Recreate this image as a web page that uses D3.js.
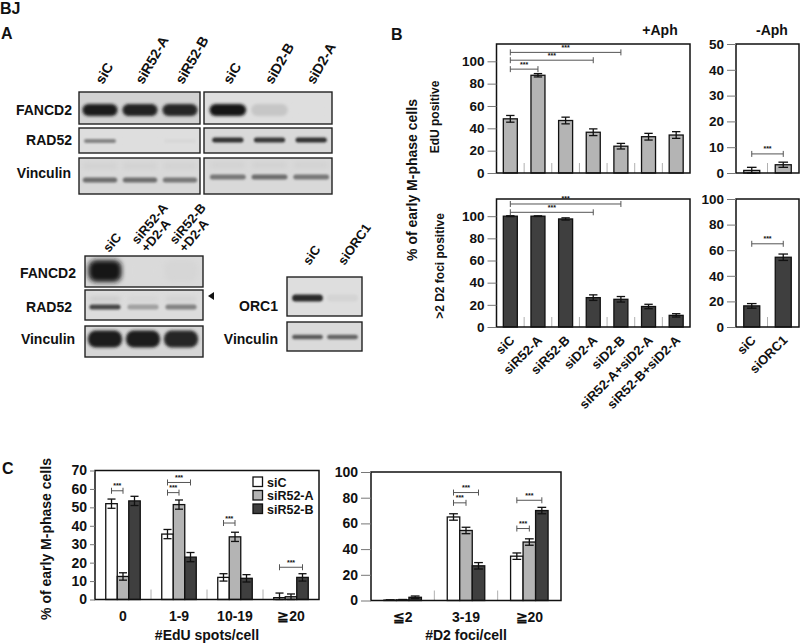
<!DOCTYPE html>
<html><head><meta charset="utf-8">
<script src="https://cdn.jsdelivr.net/npm/d3@7"></script>
<style>
body{margin:0;background:#fff}
text{font-family:"Liberation Sans",Arial,Helvetica,sans-serif;font-weight:bold;fill:#111}
</style>
</head><body>
<script>
// ================= DATA =================
// Panel A - western blots (relative band intensity 0..1)
const blot1Lanes = ["siC", "siR52-A", "siR52-B"];
const blot1FANCD2 = [0.95, 0.93, 0.9];
const blot1RAD52 = [0.45, 0.0, 0.03];
const blot1Vinculin = [0.55, 0.55, 0.5];
const blot2Lanes = ["siC", "siD2-B", "siD2-A"];
const blot2FANCD2 = [1.0, 0.12, 0.0];
const blot2RAD52 = [0.85, 0.82, 0.85];
const blot2Vinculin = [0.5, 0.55, 0.5];
const blot3Lanes = ["siC", "siR52-A\n+D2-A", "siR52-B\n+D2-A"];
const blot3FANCD2 = [1.0, 0.0, 0.02];
const blot3RAD52 = [0.75, 0.3, 0.45];
const blot3Vinculin = [0.95, 0.95, 0.9];
const blot4Lanes = ["siC", "siORC1"];
const blot4ORC1 = [0.9, 0.05];
const blot4Vinculin = [0.65, 0.6];

// Panel B
const bCats = ["siC", "siR52-A", "siR52-B", "siD2-A", "siD2-B", "siR52-A+siD2-A", "siR52-B+siD2-A"];
const bEduAph = [48.5, 87.5, 47, 36.5, 24, 32.5, 34];
const bEduAphErr = [3, 1.5, 3, 3, 2.5, 3, 3];
const bFociAph = [100, 100, 97.5, 26.5, 25, 18.5, 10.5];
const bFociAphErr = [0.4, 0.3, 1, 2.5, 2.5, 2, 1.5];
const bCatsNoAph = ["siC", "siORC1"];
const bEduNoAph = [1, 3.2];
const bEduNoAphErr = [1.2, 1];
const bFociNoAph = [16.5, 54.5];
const bFociNoAphErr = [1.8, 2.5];
const bTicks = [0, 20, 40, 60, 80, 100];
const bTicksNoAphEdu = [0, 10, 20, 30, 40, 50];
// significance brackets: [from index, to index, height in data units]
const bEduAphSig = [[0, 1, 93], [0, 3, 101], [0, 4, 108]];
const bFociAphSig = [[0, 3, 103.5], [0, 4, 111]];
const bEduNoAphSig = [[0, 1, 7.4]];
const bFociNoAphSig = [[0, 1, 65]];

// Panel C
const cSeries = ["siC", "siR52-A", "siR52-B"];
const cEduGroups = ["0", "1-9", "10-19", "≧20"];
const cEduSiC = [52, 35.5, 12, 1];
const cEduSiCErr = [2.5, 2.5, 2, 2.5];
const cEduR52A = [12.5, 51.5, 34, 1.5];
const cEduR52AErr = [2, 2.5, 2.5, 1.5];
const cEduR52B = [53.5, 23, 11.5, 12];
const cEduR52BErr = [2.5, 2.5, 2, 2];
const cEduTicks = [0, 10, 20, 30, 40, 50, 60, 70];
const cEduSig = [[0, 0, 1, 59], [1, 0, 1, 58], [1, 0, 2, 63.5], [2, 0, 1, 41.5], [3, 0, 2, 17.5]];
const cFociGroups = ["≦2", "3-19", "≧20"];
const cFociSiC = [0.3, 65, 34.5];
const cFociSiCErr = [0.2, 2.5, 2.5];
const cFociR52A = [0.5, 54.5, 45.5];
const cFociR52AErr = [0.3, 2.5, 2.5];
const cFociR52B = [2.5, 27, 70];
const cFociR52BErr = [1, 2.5, 2.5];
const cFociTicks = [0, 20, 40, 60, 80, 100];
const cFociSig = [[1, 0, 1, 76], [1, 0, 2, 84], [2, 0, 1, 56], [2, 0, 2, 78]];

// ================= DRAWING =================
const FONT = '"Liberation Sans", Arial, Helvetica, sans-serif';
const svg = d3.select("body").append("svg").attr("width", 800).attr("height", 644);
const defs = svg.append("defs");
function blurFilter(id, sd) {
  defs.append("filter").attr("id", id).attr("x", "-30%").attr("y", "-200%")
    .attr("width", "160%").attr("height", "500%")
    .append("feGaussianBlur").attr("stdDeviation", sd);
}
blurFilter("blurS", 1.0);
blurFilter("blurM", 1.8);
blurFilter("blurL", 2.6);

function label(x, y, t, fs, anchor) {
  return svg.append("text").attr("x", x).attr("y", y).attr("font-size", fs)
    .attr("text-anchor", anchor || "start").text(t);
}

// panel letters
label(0, 14, "BJ", 16);
label(1, 39, "A", 16);
label(391, 40, "B", 16);
label(2, 474, "C", 16);

// ---------- blots ----------
let clipN = 0;
const gA = svg.append("g");
function blotRow(x0, x1, y0, y1, lanes, range, intens, b) {
  const id = "clip" + (clipN++);
  defs.append("clipPath").attr("id", id).append("rect")
    .attr("x", x0).attr("y", y0).attr("width", x1 - x0).attr("height", y1 - y0);
  gA.append("rect").attr("x", x0).attr("y", y0).attr("width", x1 - x0).attr("height", y1 - y0)
    .attr("fill", b.bg);
  const lx = d3.scaleBand().domain(lanes).range(range);
  const col = d3.scaleLinear().domain([0, 1]).range([b.bg, "#151515"]).interpolate(d3.interpolateRgb);
  const inner = gA.append("g").attr("clip-path", `url(#${id})`);
  if (b.ghost) {
    inner.selectAll(null).data(lanes).join("rect")
      .attr("x", d => lx(d) + lx.bandwidth() * (1 - b.wf) / 2)
      .attr("width", lx.bandwidth() * b.wf)
      .attr("y", b.cy + b.ghost.dy - b.ghost.h / 2).attr("height", b.ghost.h)
      .attr("rx", b.ghost.h / 2)
      .attr("fill", (d, i) => col(Math.min(1, intens[i] * b.ghost.k)))
      .attr("filter", "url(#blurL)");
  }
  inner.selectAll(null).data(lanes).join("rect")
    .attr("x", d => lx(d) + lx.bandwidth() * (1 - b.wf) / 2)
    .attr("width", lx.bandwidth() * b.wf)
    .attr("y", b.cy - b.h / 2).attr("height", b.h)
    .attr("rx", Math.min(b.h / 2, 8))
    .attr("fill", (d, i) => col(intens[i]))
    .attr("filter", `url(#${b.blur})`);
  gA.append("rect").attr("x", x0).attr("y", y0).attr("width", x1 - x0).attr("height", y1 - y0)
    .attr("fill", "none").attr("stroke", "#222").attr("stroke-width", 1.4);
}
function laneLabels(lanes, range, baseY, dx, angle, fs) {
  const lx = d3.scaleBand().domain(lanes).range(range);
  const lh = fs * 0.95;
  const a = angle * Math.PI / 180;
  lanes.forEach(l => {
    const lines = l.split("\n");
    const n = lines.length - 1;
    const c = lx(l) + lx.bandwidth() / 2 + dx;
    const sx = c - Math.sin(-a) * lh * n, sy = baseY - Math.cos(-a) * lh * n;
    const t = gA.append("text").attr("font-size", fs)
      .attr("transform", `translate(${sx},${sy}) rotate(${angle})`);
    lines.forEach((s, i) => t.append("tspan").attr("x", 0).attr("dy", i ? lh : 0).text(s));
  });
}
function rowLabel(x, y, t, anchor) {
  gA.append("text").attr("x", x).attr("y", y).attr("font-size", 14).attr("text-anchor", anchor).text(t);
}
// blot group 1 & 2 (top)
const r1 = [80, 200], r2 = [207, 332];
blotRow(79, 200, 92, 124, blot1Lanes, r1, blot1FANCD2, {bg: "#d2d2d2", cy: 110, h: 12, wf: 0.88, blur: "blurM"});
blotRow(79, 200, 128, 153, blot1Lanes, r1, blot1RAD52, {bg: "#dedede", cy: 141, h: 4, wf: 0.8, blur: "blurS"});
blotRow(79, 200, 158, 194, blot1Lanes, r1, blot1Vinculin, {bg: "#d9d9d9", cy: 180, h: 5, wf: 0.86, blur: "blurS",
  ghost: {dy: -14, h: 6, k: 0.07}});
blotRow(204, 332, 92, 124, blot2Lanes, r2, blot2FANCD2, {bg: "#dedede", cy: 110, h: 12, wf: 0.88, blur: "blurM"});
blotRow(204, 332, 128, 153, blot2Lanes, r2, blot2RAD52, {bg: "#d9d9d9", cy: 140, h: 5, wf: 0.75, blur: "blurS"});
blotRow(204, 332, 158, 194, blot2Lanes, r2, blot2Vinculin, {bg: "#d9d9d9", cy: 177, h: 5, wf: 0.86, blur: "blurS",
  ghost: {dy: -12, h: 6, k: 0.07}});
laneLabels(blot1Lanes, r1, 85, 3, -60, 14);
laneLabels(blot2Lanes, r2, 85, 3, -60, 14);
rowLabel(72, 115, "FANCD2", "end");
rowLabel(72, 145, "RAD52", "end");
rowLabel(71, 178, "Vinculin", "end");

// blot group 3 (lower left)
const r3 = [86, 200];
blotRow(85, 203, 256, 287, blot3Lanes, r3, blot3FANCD2, {bg: "#dadada", cy: 271, h: 22, wf: 0.88, blur: "blurL"});
blotRow(85, 203, 290, 320, blot3Lanes, r3, blot3RAD52, {bg: "#dcdcdc", cy: 307, h: 5, wf: 0.82, blur: "blurS",
  ghost: {dy: -8, h: 3, k: 0.2}});
blotRow(85, 203, 326, 357, blot3Lanes, r3, blot3Vinculin, {bg: "#d6d6d6", cy: 339, h: 17, wf: 0.9, blur: "blurM"});
laneLabels(blot3Lanes, r3, 253, 4, -50, 13);
rowLabel(48, 278, "FANCD2", "middle");
rowLabel(49, 312, "RAD52", "middle");
rowLabel(48, 344, "Vinculin", "middle");
gA.append("path").attr("d", "M208,296 L214,292 L214,300 Z").attr("fill", "#111");

// blot group 4 (ORC1)
const r4 = [290, 360];
blotRow(287, 362, 277, 316, blot4Lanes, r4, blot4ORC1, {bg: "#dedede", cy: 298, h: 7, wf: 0.88, blur: "blurS"});
blotRow(287, 362, 322, 351, blot4Lanes, r4, blot4Vinculin, {bg: "#dadada", cy: 337, h: 4.5, wf: 0.88, blur: "blurS"});
laneLabels(blot4Lanes, r4, 266, 2, -55, 13);
rowLabel(278, 311, "ORC1", "end");
rowLabel(278, 344, "Vinculin", "end");

// ---------- chart helpers ----------
function styleAxis(ax, fs) {
  ax.select(".domain").remove();
  ax.selectAll(".tick line").attr("stroke", "#777").attr("stroke-width", 1);
  ax.selectAll(".tick text").attr("font-size", fs).attr("font-family", FONT)
    .attr("font-weight", "bold").attr("fill", "#111");
}
function errorBars(g, pts, y, capW) {
  pts.forEach(p => {
    const yt = y(p.v + p.e), yb = y(Math.max(0, p.v - p.e));
    g.append("line").attr("x1", p.x).attr("x2", p.x).attr("y1", yt).attr("y2", yb)
      .attr("stroke", "#111").attr("stroke-width", 1.3);
    [yt, yb].forEach(yy => g.append("line").attr("x1", p.x - capW / 2).attr("x2", p.x + capW / 2)
      .attr("y1", yy).attr("y2", yy).attr("stroke", "#111").attr("stroke-width", 1.3));
  });
}
function brackets(g, list) {
  list.forEach(b => {
    g.append("line").attr("x1", b.xa).attr("x2", b.xb).attr("y1", b.y).attr("y2", b.y)
      .attr("stroke", "#555").attr("stroke-width", 1);
    [b.xa, b.xb].forEach(xx => g.append("line").attr("x1", xx).attr("x2", xx)
      .attr("y1", b.y - 3).attr("y2", b.y + 3).attr("stroke", "#555").attr("stroke-width", 1));
    g.append("text").attr("x", (b.xa + b.xb) / 2).attr("y", b.y - 2.5).attr("text-anchor", "middle")
      .attr("font-size", 7).attr("font-weight", "normal").attr("fill", "#444").text("***");
  });
}
function dividers(g, x, cats, yBot) {
  g.selectAll(null).data(cats.slice(1)).join("line")
    .attr("x1", c => x(c)).attr("x2", c => x(c)).attr("y1", yBot).attr("y2", yBot - 10)
    .attr("stroke", "#b0b0b0").attr("stroke-width", 1);
}
function frame(g, x0, x1, yTop, yBot) {
  g.append("rect").attr("x", x0).attr("y", yTop).attr("width", x1 - x0).attr("height", yBot - yTop)
    .attr("fill", "none").attr("stroke", "#111").attr("stroke-width", 1.5);
}

function barPanel(o) {
  const g = svg.append("g");
  const x = d3.scaleBand().domain(o.cats).range([o.x0, o.x1]);
  const y = d3.scaleLinear().domain([0, o.max]).range([o.yBot, o.yTop]);
  const cx = c => x(c) + x.bandwidth() / 2;
  dividers(g, x, o.cats, o.yBot);
  g.selectAll(null).data(o.cats).join("rect")
    .attr("x", c => cx(c) - o.barW / 2).attr("width", o.barW)
    .attr("y", (c, i) => y(o.vals[i])).attr("height", (c, i) => o.yBot - y(o.vals[i]))
    .attr("fill", o.fill).attr("stroke", "#111").attr("stroke-width", 1.3);
  errorBars(g, o.cats.map((c, i) => ({x: cx(c), v: o.vals[i], e: o.errs[i]})), y, o.barW * 0.6);
  frame(g, o.x0, o.x1, o.yTop, o.yBot);
  const ax = g.append("g").attr("transform", `translate(${o.x0},0)`)
    .call(d3.axisLeft(y).tickValues(o.ticks).tickSize(9).tickPadding(3));
  styleAxis(ax, 13.5);
  brackets(g, o.sig.map(s => ({xa: cx(o.cats[s[0]]), xb: cx(o.cats[s[1]]), y: y(s[2])})));
  if (o.xlabels) {
    o.cats.forEach(c => g.append("text").attr("font-size", 13).attr("text-anchor", "end")
      .attr("transform", `translate(${cx(c) + 5},${o.yBot + 14}) rotate(-45)`).text(c));
  }
}

// ---------- Panel B ----------
barPanel({cats: bCats, vals: bEduAph, errs: bEduAphErr, x0: 496.5, x1: 690, yTop: 44, yBot: 173,
  max: 115.5, ticks: bTicks, fill: "#b4b4b4", barW: 14, sig: bEduAphSig});
barPanel({cats: bCatsNoAph, vals: bEduNoAph, errs: bEduNoAphErr, x0: 736, x1: 799, yTop: 44, yBot: 173,
  max: 50, ticks: bTicksNoAphEdu, fill: "#b4b4b4", barW: 16, sig: bEduNoAphSig});
barPanel({cats: bCats, vals: bFociAph, errs: bFociAphErr, x0: 496.5, x1: 690, yTop: 199, yBot: 327,
  max: 115.5, ticks: bTicks, fill: "#3f3f3f", barW: 14, sig: bFociAphSig, xlabels: true});
barPanel({cats: bCatsNoAph, vals: bFociNoAph, errs: bFociNoAphErr, x0: 736, x1: 799, yTop: 199, yBot: 327,
  max: 100, ticks: bTicks, fill: "#3f3f3f", barW: 16, sig: bFociNoAphSig, xlabels: true});
label(660, 35, "+Aph", 14, "middle");
label(772, 35, "-Aph", 14, "middle");
svg.append("text").attr("font-size", 14).attr("text-anchor", "middle")
  .attr("transform", "translate(417,180) rotate(-90)").text("% of early M-phase cells");
svg.append("text").attr("font-size", 12).attr("text-anchor", "middle")
  .attr("transform", "translate(439,117) rotate(-90)").text("EdU positive");
svg.append("text").attr("font-size", 12).attr("text-anchor", "middle")
  .attr("transform", "translate(444,266) rotate(-90)").text(">2 D2 foci positive");

// ---------- Panel C ----------
const cColors = ["#ffffff", "#b4b4b4", "#3f3f3f"];
function groupPanel(o) {
  const g = svg.append("g");
  const x = d3.scaleBand().domain(o.groups).range([o.x0, o.x1]);
  const xi = d3.scaleBand().domain(cSeries).range([-o.gw / 2, o.gw / 2]);
  const y = d3.scaleLinear().domain([0, o.max]).range([o.yBot, o.yTop]);
  const gc = gname => x(gname) + x.bandwidth() / 2;
  dividers(g, x, o.groups, o.yBot);
  cSeries.forEach((s, si) => {
    g.selectAll(null).data(o.groups).join("rect")
      .attr("x", d => gc(d) + xi(s)).attr("width", xi.bandwidth())
      .attr("y", (d, i) => y(o.vals[si][i])).attr("height", (d, i) => o.yBot - y(o.vals[si][i]))
      .attr("fill", cColors[si]).attr("stroke", "#111").attr("stroke-width", 1.3);
  });
  cSeries.forEach((s, si) => {
    errorBars(g, o.groups.map((d, i) => ({x: gc(d) + xi(s) + xi.bandwidth() / 2, v: o.vals[si][i], e: o.errs[si][i]})),
      y, xi.bandwidth() * 0.7);
  });
  frame(g, o.x0, o.x1, o.yTop, o.yBot);
  const ax = g.append("g").attr("transform", `translate(${o.x0},0)`)
    .call(d3.axisLeft(y).tickValues(o.ticks).tickSize(o.tickSize).tickPadding(3));
  styleAxis(ax, 14);
  const bx = (gi, si) => gc(o.groups[gi]) + xi(cSeries[si]) + xi.bandwidth() / 2;
  brackets(g, o.sig.map(s => ({xa: bx(s[0], s[1]), xb: bx(s[0], s[2]), y: y(s[3])})));
  o.groups.forEach(d => g.append("text").attr("x", gc(d)).attr("y", o.yBot + 21)
    .attr("text-anchor", "middle").attr("font-size", 14).text(d));
  g.append("text").attr("x", (o.x0 + o.x1) / 2).attr("y", 640).attr("text-anchor", "middle")
    .attr("font-size", 14).text(o.title);
}
groupPanel({groups: cEduGroups, vals: [cEduSiC, cEduR52A, cEduR52B], errs: [cEduSiCErr, cEduR52AErr, cEduR52BErr],
  x0: 95, x1: 319, yTop: 470.5, yBot: 599.5, max: 70, ticks: cEduTicks, gw: 34.5, tickSize: 5,
  sig: cEduSig, title: "#EdU spots/cell"});
groupPanel({groups: cFociGroups, vals: [cFociSiC, cFociR52A, cFociR52B], errs: [cFociSiCErr, cFociR52AErr, cFociR52BErr],
  x0: 371, x1: 561, yTop: 472, yBot: 600.5, max: 100, ticks: cFociTicks, gw: 37.5, tickSize: 10,
  sig: cFociSig, title: "#D2 foci/cell"});
svg.append("text").attr("font-size", 14).attr("text-anchor", "middle")
  .attr("transform", "translate(51,539) rotate(-90)").text("% of early M-phase cells");
// legend
const lg = svg.append("g");
cSeries.forEach((s, i) => {
  const yy = [482, 495.5, 509][i];
  lg.append("rect").attr("x", 253).attr("y", yy - 5).attr("width", 9.5).attr("height", 9.5)
    .attr("fill", cColors[i]).attr("stroke", "#111").attr("stroke-width", 1.3);
  lg.append("text").attr("x", 267).attr("y", yy + 4.5).attr("font-size", 12.5).text(s);
});
</script>
</body></html>
